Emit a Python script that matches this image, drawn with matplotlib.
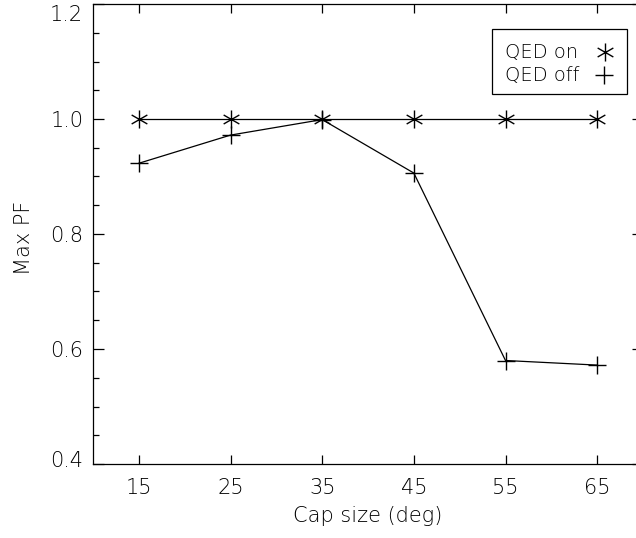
import matplotlib
matplotlib.use("Agg")
import matplotlib.pyplot as plt
from matplotlib.patches import Rectangle
from matplotlib.lines import Line2D
from matplotlib.path import Path
from matplotlib.ticker import MultipleLocator
import matplotlib.transforms as mtransforms

cap_size = [15, 25, 35, 45, 55, 65]
qed_on = [1.0, 1.0, 1.0, 1.0, 1.0, 1.0]
qed_off = [0.923, 0.972, 0.999, 0.906, 0.580, 0.572]
x_ticks = [15, 25, 35, 45, 55, 65]
y_ticks = [0.4, 0.6, 0.8, 1.0, 1.2]

plt.rcParams['font.family'] = ['DejaVu Sans']
plt.rcParams['font.weight'] = 'light'
plt.rcParams['axes.labelweight'] = 'light'
FS = 15

W, H = 636, 538
fig = plt.figure(figsize=(W / 100, H / 100), dpi=100)
ax = fig.add_axes([93 / W, 74 / H, (643 - 93) / W, 460 / H])

# IDL-style asterisk: vertical bar plus two diagonals
c, s = 0.87, 0.5
star = Path([(0, -1), (0, 1), (-c, -s), (c, s), (-c, s), (c, -s)],
            [Path.MOVETO, Path.LINETO, Path.MOVETO, Path.LINETO, Path.MOVETO, Path.LINETO])

ax.plot(cap_size, qed_on, color='black', lw=0.9, marker=star, ms=13, mew=1.0)
ax.plot(cap_size, qed_off, color='black', lw=0.9, marker='+', ms=13, mew=1.0)

ax.set_xlim(10, 70)
ax.set_ylim(0.4, 1.2)
ax.set_xticks(x_ticks)
ax.set_yticks(y_ticks)
ax.set_yticklabels([f"{v:.1f}" for v in y_ticks])
ax.yaxis.set_minor_locator(MultipleLocator(0.05))
ax.tick_params(axis='both', which='both', direction='in', top=True, right=True,
               labelsize=FS, width=0.9, color='black')
ax.tick_params(axis='x', which='major', length=6.5, pad=10)
ax.tick_params(axis='y', which='major', length=8, pad=7)
ax.tick_params(axis='y', which='minor', length=4.3)
for sp in ax.spines.values():
    sp.set_linewidth(0.9)

# shift the end y labels inward like the reference
labels = ax.get_yticklabels()
labels[0].set_transform(labels[0].get_transform() +
                        mtransforms.ScaledTranslation(0, 5 / 100, fig.dpi_scale_trans))
labels[-1].set_transform(labels[-1].get_transform() +
                         mtransforms.ScaledTranslation(0, -9 / 100, fig.dpi_scale_trans))

ax.set_xlabel('Cap size (deg)', fontsize=FS, labelpad=6, fontweight='light')
ax.set_ylabel('Max PF', fontsize=FS, fontweight='light')
ax.yaxis.set_label_coords(-(93 - 34) / (643 - 93), (464 - 238) / 460)

# legend box drawn in figure pixel fractions
LFS = 14
fx = lambda px: px / W
fy = lambda py: 1 - py / H
fig.patches.append(Rectangle((fx(492), fy(94)), fx(627) - fx(492), fy(29) - fy(94),
                             transform=fig.transFigure, fill=False, lw=0.9,
                             edgecolor='black'))
fig.text(fx(505), fy(52), 'QED on', fontsize=LFS, va='center', ha='left', fontweight='light')
fig.text(fx(505), fy(75), 'QED off', fontsize=LFS, va='center', ha='left', fontweight='light')
fig.lines.append(Line2D([fx(605)], [fy(52)], transform=fig.transFigure,
                        marker=star, ms=13, mew=1.0, color='black', ls='none'))
fig.lines.append(Line2D([fx(604)], [fy(75)], transform=fig.transFigure,
                        marker='+', ms=13, mew=1.0, color='black', ls='none'))

fig.savefig('out.png', dpi=100)
